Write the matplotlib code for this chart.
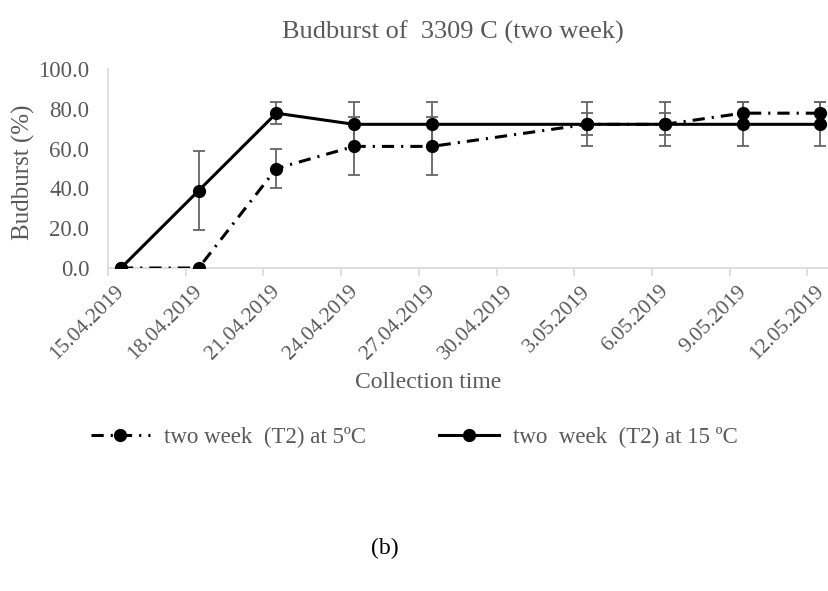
import pandas as pd
import matplotlib
matplotlib.use('Agg')
import matplotlib.pyplot as plt
import matplotlib.dates as mdates

# data
fechas = ['15.04.2019', '18.04.2019', '21.04.2019', '24.04.2019', '27.04.2019',
          '3.05.2019', '6.05.2019', '9.05.2019', '12.05.2019']
t5 = [0.0, 0.0, 50.0, 61.1, 61.1, 72.2, 72.2, 77.8, 77.8]
err5 = [0.0, 0.0, 9.6, 14.6, 14.6, 11.1, 11.1, 5.6, 5.6]
t15 = [0.0, 38.9, 77.8, 72.2, 72.2, 72.2, 72.2, 72.2, 72.2]
err15 = [0.0, 20.0, 5.6, 11.1, 11.1, 5.6, 5.6, 11.1, 11.1]

etiquetas_x = ['15.04.2019', '18.04.2019', '21.04.2019', '24.04.2019', '27.04.2019',
               '30.04.2019', '3.05.2019', '6.05.2019', '9.05.2019', '12.05.2019']

plt.rcParams['font.family'] = ['Liberation Serif', 'DejaVu Serif']
gris = '#595959'

fechas_dt = pd.to_datetime(fechas, format='%d.%m.%Y')
x = mdates.date2num(fechas_dt) + 0.5
inicio = mdates.date2num(pd.Timestamp('2019-04-15'))

fig = plt.figure(figsize=(8.29, 5.91), dpi=100)
ax = fig.add_axes([108 / 829, (591 - 268) / 591, 1 - 108 / 829, (268 - 69) / 591])

ax.errorbar(x, t5, yerr=err5, fmt='none', ecolor='#666666', elinewidth=1.3,
            capsize=4.5, capthick=1.3, zorder=2)
ax.errorbar(x, t15, yerr=err15, fmt='none', ecolor='#666666', elinewidth=1.3,
            capsize=4.5, capthick=1.3, zorder=2)
ax.plot(x, t5, color='black', lw=2.2, linestyle=(0, (4, 2.3, 0.7, 2.3)),
        marker='o', markersize=8.5, label='two week  (T2) at 5ºC', zorder=3)
ax.plot(x, t15, color='black', lw=2.2, linestyle='-',
        marker='o', markersize=8.5, label='two  week  (T2) at 15 ºC', zorder=3)

ax.set_ylim(0, 100)
ax.set_xlim(inicio, inicio + (829 - 108) / 25.9)
ax.set_yticks([0, 20, 40, 60, 80, 100])
ax.set_yticklabels(['0.0', '20.0', '40.0', '60.0', '80.0', '100.0'])

ticks_x = [inicio + 3 * i for i in range(len(etiquetas_x))]
ax.set_xticks(ticks_x)
ax.set_xticklabels([''] * len(ticks_x))
ax.set_xticks([t + 0.27 for t in ticks_x], minor=True)
ax.set_xticklabels(etiquetas_x, minor=True, rotation=45, ha='right', va='top',
                   rotation_mode='anchor', fontsize=15.5, color=gris)
ax.tick_params(axis='x', which='major', length=6, color='#d9d9d9', width=1.2)
ax.tick_params(axis='x', which='minor', length=0, pad=10)
ax.tick_params(axis='y', length=0, labelsize=16.5, labelcolor=gris, pad=13.5)

for lado in ['top', 'right']:
    ax.spines[lado].set_visible(False)
ax.spines['left'].set_color('#d9d9d9')
ax.spines['bottom'].set_color('#d9d9d9')
ax.spines['left'].set_linewidth(1.2)
ax.spines['bottom'].set_linewidth(1.2)

fig.text(453 / 829, (591 - 32) / 591, 'Budburst of  3309 C (two week)',
         ha='center', va='center', fontsize=19, color=gris)
fig.text(23 / 829, (591 - 172) / 591, 'Budburst (%)', rotation=90,
         ha='center', va='center', fontsize=18, color=gris)
fig.text(428 / 829, (591 - 382) / 591, 'Collection time',
         ha='center', va='center', fontsize=17, color=gris)
fig.text(385 / 829, (591 - 548) / 591, '(b)',
         ha='center', va='center', fontsize=17, color='black')

handles, labels = ax.get_legend_handles_labels()
fig.legend(handles, labels, loc='center', bbox_to_anchor=(414 / 829, (591 - 437) / 591),
           ncol=2, frameon=False, fontsize=16.5, labelcolor=gris,
           handlelength=2.6, handletextpad=0.6, columnspacing=3.2)

fig.savefig('out.png', dpi=100)
